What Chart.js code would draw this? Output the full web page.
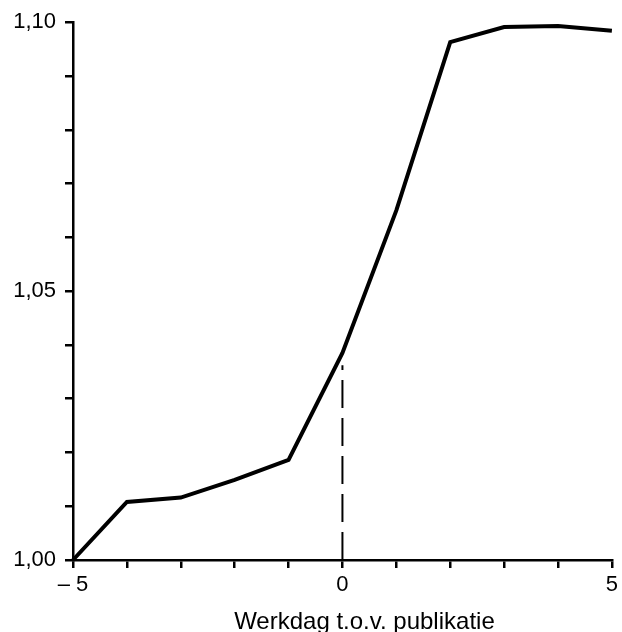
<!DOCTYPE html>
<html lang="nl">
<head>
  <meta charset="UTF-8">
  <title>Werkdag t.o.v. publikatie</title>
  <script src="https://cdn.jsdelivr.net/npm/chart.js"></script>
  <style>
    html, body { margin: 0; padding: 0; background: #fff; }
    #wrap { width: 622px; height: 632px; }
  </style>
</head>
<body>
  <div id="wrap"><canvas id="chart" width="622" height="632"></canvas></div>
  <script>
    // werkdag t.o.v. publikatie en koersfactor
    const days = [-5, -4, -3, -2, -1, 0, 1, 2, 3, 4, 5];
    const factors = [1.000, 1.0108, 1.0116, 1.0149, 1.0186, 1.0385, 1.065, 1.0963, 1.0991, 1.0993, 1.0984];
    // gestippelde lijn op dag 0
    const dashX = [0, 0];
    const dashY = [1.000, 1.0362];
    const xLabels = { '-5': '\u2013 5', '0': '0', '5': '5' };
    const yLabels = { '100': '1,00', '105': '1,05', '110': '1,10' };
    const xTitle = 'Werkdag t.o.v. publikatie';

    const font = 'Liberation Sans, Arial, Helvetica, sans-serif';

    const titlePlugin = {
      id: 'xTitle',
      afterDraw(chart) {
        const ctx = chart.ctx;
        const a = chart.chartArea;
        ctx.save();
        ctx.fillStyle = '#000';
        ctx.font = '24px ' + font;
        ctx.textAlign = 'center';
        ctx.textBaseline = 'alphabetic';
        ctx.fillText(xTitle, (a.left + a.right) / 2 + 22, 629);
        ctx.restore();
      }
    };

    new Chart(document.getElementById('chart'), {
      type: 'line',
      data: {
        datasets: [{
          data: days.map((d, i) => ({ x: d, y: factors[i] })),
          borderColor: '#000',
          borderWidth: 4,
          pointRadius: 0,
          tension: 0,
          clip: false
        }, {
          data: dashX.map((d, i) => ({ x: d, y: dashY[i] })),
          borderColor: '#000',
          borderWidth: 2,
          borderDash: [28, 10],
          pointRadius: 0,
          clip: false
        }]
      },
      options: {
        responsive: false,
        animation: false,
        layout: { padding: { top: 22, right: 2, left: 0, bottom: 0 } },
        plugins: { legend: { display: false }, tooltip: { enabled: false } },
        scales: {
          x: {
            type: 'linear',
            min: -5,
            max: 5,
            afterFit(s) { s.height = 72; },
            border: { display: true, color: '#000', width: 2.5 },
            grid: { drawOnChartArea: false, tickLength: 8, color: '#000', lineWidth: 2.5 },
            ticks: {
              stepSize: 1,
              autoSkip: false,
              maxRotation: 0,
              padding: 4,
              color: '#000',
              font: { size: 22, family: font },
              callback: v => xLabels[String(Math.round(v))] || ''
            }
          },
          y: {
            type: 'linear',
            min: 1.00,
            max: 1.10,
            afterFit(s) { s.width = 73; },
            border: { display: true, color: '#000', width: 2.5 },
            grid: { drawOnChartArea: false, tickLength: 8, color: '#000', lineWidth: 2.5 },
            ticks: {
              stepSize: 0.01,
              autoSkip: false,
              padding: 9,
              color: '#000',
              font: { size: 22, family: font },
              callback: v => yLabels[String(Math.round(v * 100))] || ''
            }
          }
        }
      },
      plugins: [titlePlugin]
    });
  </script>
</body>
</html>
